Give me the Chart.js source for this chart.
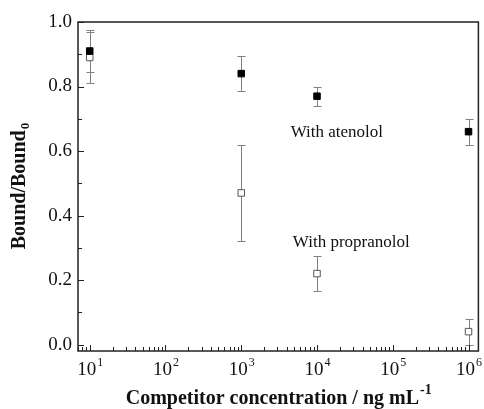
<!DOCTYPE html>
<html>
<head>
<meta charset="utf-8">
<script src="https://cdn.jsdelivr.net/npm/chart.js@4.4.0/dist/chart.umd.min.js"></script>
<style>
  html, body { margin: 0; padding: 0; background: #fff; }
</style>
</head>
<body>
<canvas id="chart" width="484" height="409"></canvas>
<script>
// competitor concentrations (ng/mL) and Bound/Bound0 readings
const concentrations = [10, 1000, 10000, 1000000];
const atenololBound = [0.91, 0.84, 0.77, 0.66];
const atenololErr = [0.065, 0.055, 0.03, 0.04];
const propranololBound = [0.89, 0.47, 0.22, 0.04];
const propranololErr = [0.078, 0.15, 0.053, 0.04];

// tick labels
const yTicks = [0, 0.2, 0.4, 0.6, 0.8, 1.0];
const yMinorTicks = [0.1, 0.3, 0.5, 0.7, 0.9];
const xTickExponents = [1, 2, 3, 4, 5, 6];

// text notes placed in data units
const notes = [
  { text: 'With atenolol', x: 4500, y: 0.657 },
  { text: 'With propranolol', x: 4800, y: 0.316 }
];

const serif = '"Liberation Serif", "Times New Roman", serif';

function points(xs, ys) {
  return xs.map((x, i) => ({ x: x, y: ys[i] }));
}

// error bars go under the markers
const errorBars = {
  id: 'errorBars',
  beforeDatasetsDraw(chart) {
    const { ctx, scales: { x, y } } = chart;
    ctx.save();
    ctx.strokeStyle = '#808080';
    ctx.lineWidth = 1;
    chart.data.datasets.forEach(ds => {
      ds.data.forEach((p, i) => {
        const px = Math.round(x.getPixelForValue(p.x)) + 0.5;
        const top = Math.round(y.getPixelForValue(p.y + ds.errors[i])) + 0.5;
        const bot = Math.round(y.getPixelForValue(p.y - ds.errors[i])) + 0.5;
        ctx.beginPath();
        ctx.moveTo(px, top); ctx.lineTo(px, bot);
        ctx.moveTo(px - 4, top); ctx.lineTo(px + 4, top);
        ctx.moveTo(px - 4, bot); ctx.lineTo(px + 4, bot);
        ctx.stroke();
      });
    });
    ctx.restore();
  }
};

// frame, inward ticks, labels and titles
const frame = {
  id: 'frame',
  afterDraw(chart) {
    const { ctx, chartArea: a, scales: { x, y } } = chart;
    ctx.save();

    ctx.strokeStyle = '#222';
    ctx.lineWidth = 1.5;
    ctx.strokeRect(a.left, a.top, a.right - a.left, a.bottom - a.top);

    ctx.lineWidth = 1;
    ctx.beginPath();
    yTicks.forEach(v => {
      const py = Math.round(y.getPixelForValue(v)) + 0.5;
      ctx.moveTo(a.left, py); ctx.lineTo(a.left + 6, py);
    });
    yMinorTicks.forEach(v => {
      const py = Math.round(y.getPixelForValue(v)) + 0.5;
      ctx.moveTo(a.left, py); ctx.lineTo(a.left + 4, py);
    });
    for (let e = 0; e <= 6; e++) {
      for (let m = 1; m <= 9; m++) {
        const v = m * Math.pow(10, e);
        if (v < x.min || v > x.max) continue;
        const px = Math.round(x.getPixelForValue(v)) + 0.5;
        ctx.moveTo(px, a.bottom);
        ctx.lineTo(px, a.bottom - (m === 1 ? 6 : 4));
      }
    }
    ctx.stroke();

    // y tick labels
    ctx.fillStyle = '#111';
    ctx.font = '19px ' + serif;
    ctx.textAlign = 'right';
    ctx.textBaseline = 'middle';
    yTicks.forEach(v => {
      ctx.fillText(v.toFixed(1), a.left - 6, y.getPixelForValue(v));
    });

    // x tick labels 10^n
    ctx.textBaseline = 'alphabetic';
    ctx.textAlign = 'left';
    xTickExponents.forEach(e => {
      const px = x.getPixelForValue(Math.pow(10, e));
      ctx.font = '19px ' + serif;
      const wBase = ctx.measureText('10').width;
      ctx.font = '12px ' + serif;
      const wSup = ctx.measureText(String(e)).width;
      const start = px - (wBase + wSup) / 2;
      ctx.font = '19px ' + serif;
      ctx.fillText('10', start, 375);
      ctx.font = '12px ' + serif;
      ctx.fillText(String(e), start + wBase + 1, 366);
    });

    // x title
    const xt = 'Competitor concentration / ng mL';
    ctx.font = 'bold 20px ' + serif;
    const wT = ctx.measureText(xt).width;
    ctx.font = 'bold 14px ' + serif;
    const wS = ctx.measureText('-1').width;
    const sx = (a.left + a.right) / 2 - (wT + wS) / 2;
    ctx.font = 'bold 20px ' + serif;
    ctx.fillText(xt, sx, 404);
    ctx.font = 'bold 14px ' + serif;
    ctx.fillText('-1', sx + wT + 1, 394);

    // y title, rotated
    ctx.save();
    ctx.translate(25, (a.top + a.bottom) / 2);
    ctx.rotate(-Math.PI / 2);
    ctx.font = 'bold 20px ' + serif;
    const yt = 'Bound/Bound';
    const wY = ctx.measureText(yt).width;
    ctx.font = 'bold 13px ' + serif;
    const wZ = ctx.measureText('0').width;
    const ys = -(wY + wZ) / 2;
    ctx.font = 'bold 20px ' + serif;
    ctx.fillText(yt, ys, 0);
    ctx.font = 'bold 13px ' + serif;
    ctx.fillText('0', ys + wY + 1, 4);
    ctx.restore();

    // notes
    ctx.font = '17px ' + serif;
    ctx.textBaseline = 'middle';
    notes.forEach(n => {
      ctx.fillText(n.text, x.getPixelForValue(n.x), y.getPixelForValue(n.y));
    });

    ctx.restore();
  }
};

new Chart(document.getElementById('chart'), {
  type: 'scatter',
  data: {
    datasets: [
      {
        label: 'With atenolol',
        data: points(concentrations, atenololBound),
        errors: atenololErr,
        pointStyle: 'rect',
        pointRadius: 4.6,
        backgroundColor: '#000',
        borderColor: '#000',
        borderWidth: 1
      },
      {
        label: 'With propranolol',
        data: points(concentrations, propranololBound),
        errors: propranololErr,
        pointStyle: 'rect',
        pointRadius: 4.6,
        backgroundColor: '#fff',
        borderColor: '#555',
        borderWidth: 1
      }
    ]
  },
  options: {
    responsive: false,
    animation: false,
    layout: { padding: { top: 22, right: 2, left: 0, bottom: 0 } },
    plugins: {
      legend: { display: false },
      tooltip: { enabled: false }
    },
    scales: {
      x: {
        type: 'logarithmic',
        min: 7,
        max: 1350000,
        grid: { display: false },
        border: { display: false },
        ticks: { display: false },
        afterFit: s => { s.height = 58; }
      },
      y: {
        min: -0.02,
        max: 1.0,
        grid: { display: false },
        border: { display: false },
        ticks: { display: false },
        afterFit: s => { s.width = 78; }
      }
    }
  },
  plugins: [errorBars, frame]
});
</script>
</body>
</html>
